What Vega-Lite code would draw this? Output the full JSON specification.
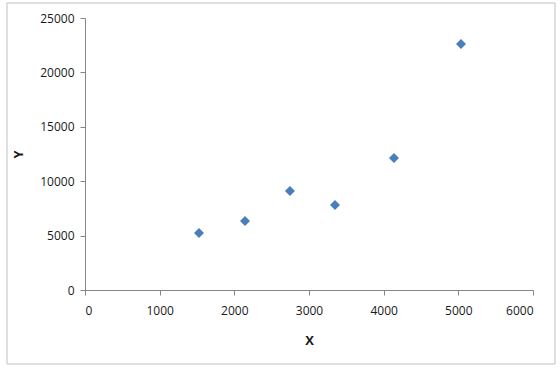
{
  "$schema": "https://vega.github.io/schema/vega-lite/v6.json",
  "width": 448,
  "height": 272,
  "autosize": "none",
  "padding": {"left": 85, "top": 18, "right": 27, "bottom": 81},
  "background": "white",
  "config": {
    "view": {"stroke": null},
    "font": "Open Sans",
    "axis": {
      "grid": false,
      "domainColor": "#868686",
      "tickColor": "#868686",
      "tickSize": 5,
      "labelColor": "#1a1a1a",
      "labelFontSize": 12,
      "labelFont": "Open Sans",
      "titleFont": "Open Sans",
      "titleFontSize": 13,
      "titleFontWeight": "bold",
      "titleColor": "#1a1a1a"
    }
  },
  "layer": [
    {
      "data": {"values": [{"x0": -1045, "x1": 6295, "y0": -6800, "y1": 26380}]},
      "mark": {"type": "rect", "fill": null, "stroke": "#bfbfbf", "strokeWidth": 1, "clip": false},
      "encoding": {
        "x": {"field": "x0", "type": "quantitative", "scale": {"domain": [0, 6000], "nice": false, "zero": false}},
        "x2": {"field": "x1"},
        "y": {"field": "y0", "type": "quantitative", "scale": {"domain": [0, 25000], "nice": false, "zero": false}},
        "y2": {"field": "y1"}
      }
    },
    {
      "data": {"values": [
        {"X": 1527, "Y": 5240},
        {"X": 2143, "Y": 6340},
        {"X": 2745, "Y": 9100},
        {"X": 3348, "Y": 7810},
        {"X": 4138, "Y": 12130},
        {"X": 5036, "Y": 22610}
      ]},
      "mark": {"type": "point", "shape": "diamond", "filled": true, "size": 100, "color": "#4a7ebb", "opacity": 1},
      "encoding": {
        "x": {"field": "X", "type": "quantitative", "title": "X",
              "axis": {"values": [0,1000,2000,3000,4000,5000,6000], "format": "d", "labelPadding": 10, "titlePadding": 18}},
        "y": {"field": "Y", "type": "quantitative", "title": "Y",
              "axis": {"values": [0,5000,10000,15000,20000,25000], "format": "d", "labelPadding": 6, "titlePadding": 14}}
      }
    }
  ]
}
